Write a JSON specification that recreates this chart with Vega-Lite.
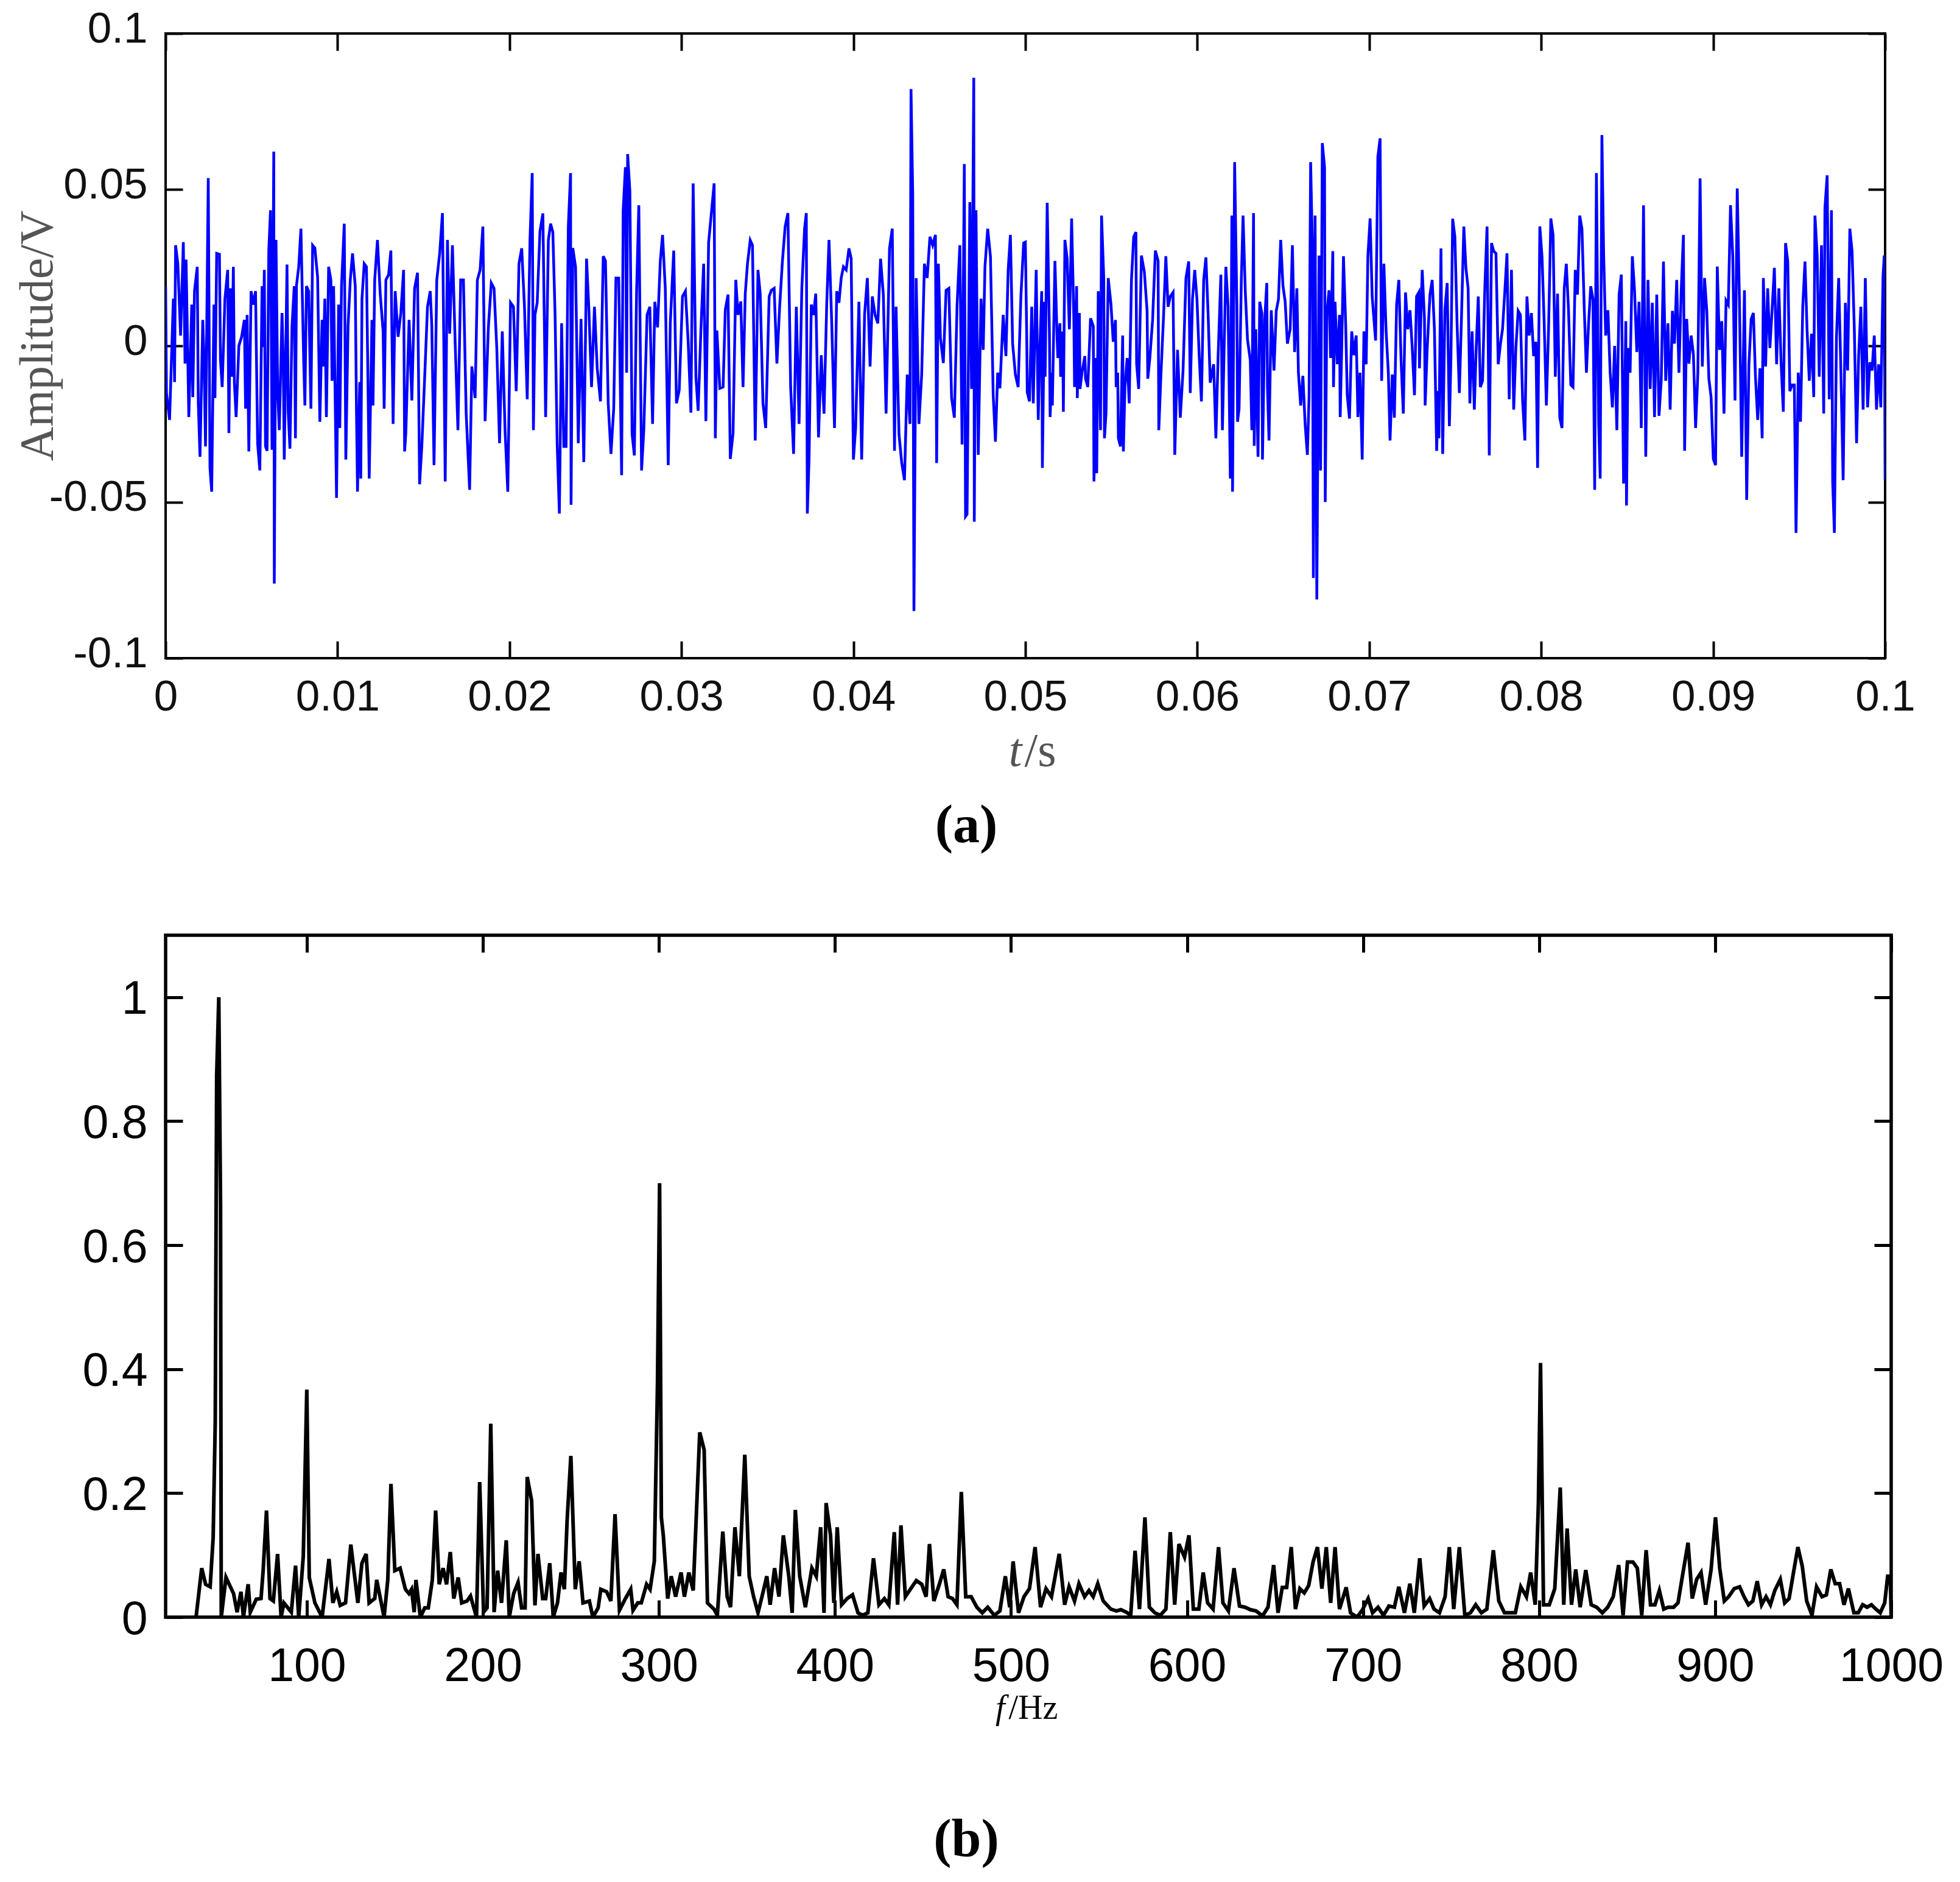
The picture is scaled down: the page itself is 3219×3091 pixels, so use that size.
{
  "$schema": "https://vega.github.io/schema/vega-lite/v6.json",
  "description": "Vibration signal in time (a) and its normalised spectrum (b)",
  "background": "white",
  "padding": {"left": 21, "top": 10, "right": 20, "bottom": 20},
  "spacing": 127,
  "config": {
    "view": {"stroke": null},
    "axis": {"grid": false, "domain": false, "tickColor": "black", "labelFlush": false, "labelOverlap": false}
  },
  "datasets": {
    "sig": [
      {"t":0,"v":0.0191},{"t":0.00005,"v":-0.0151},{"t":0.00023,"v":-0.0237},{"t":0.00045,"v":0.0151},{"t":0.00052,"v":-0.0116},{"t":0.00058,"v":0.0322},{"t":0.00071,"v":0.0263},{"t":0.00087,"v":0.0033},{"t":0.00103,"v":0.0332},{"t":0.00113,"v":-0.0057},
      {"t":0.00119,"v":0.0276},{"t":0.00135,"v":-0.0228},{"t":0.00152,"v":0.0132},{"t":0.00158,"v":-0.0164},{"t":0.00168,"v":0.0175},{"t":0.00184,"v":0.0253},{"t":0.0019,"v":-0.0184},{"t":0.002,"v":-0.0355},{"t":0.00216,"v":0.0083},{"t":0.00223,"v":-0.003},
      {"t":0.00232,"v":-0.0322},{"t":0.00248,"v":0.0537},{"t":0.00258,"v":-0.0391},{"t":0.00268,"v":-0.0467},{"t":0.00281,"v":0.0132},{"t":0.00287,"v":-0.0167},{"t":0.00297,"v":0.0296},{"t":0.00313,"v":0.0293},{"t":0.00319,"v":-0.0046},{"t":0.00329,"v":-0.0132},
      {"t":0.00345,"v":0.0151},{"t":0.00361,"v":0.0243},{"t":0.00368,"v":-0.0279},{"t":0.00377,"v":0.0184},{"t":0.00384,"v":-0.0099},{"t":0.00394,"v":0.0253},{"t":0.004,"v":-0.0118},{"t":0.0041,"v":-0.0228},{"t":0.00426,"v":0},{"t":0.00442,"v":0.0029},
      {"t":0.00458,"v":0.0083},{"t":0.00465,"v":-0.0201},{"t":0.00474,"v":0.0099},{"t":0.00484,"v":-0.0338},{"t":0.00497,"v":0.0175},{"t":0.0051,"v":0.0132},{"t":0.00523,"v":0.0175},{"t":0.00535,"v":-0.0312},{"t":0.00548,"v":-0.0399},{"t":0.00561,"v":0.0191},
      {"t":0.00568,"v":-0.0004},{"t":0.00574,"v":0.0243},{"t":0.00581,"v":-0.0322},{"t":0.0059,"v":-0.0336},{"t":0.006,"v":0.0305},{"t":0.0061,"v":0.0434},{"t":0.00619,"v":-0.0333},{"t":0.00629,"v":0.0622},{"t":0.00632,"v":-0.0761},{"t":0.00642,"v":0.0339},
      {"t":0.00652,"v":-0.0151},{"t":0.00661,"v":-0.027},{"t":0.00677,"v":0.0105},{"t":0.00684,"v":-0.0046},{"t":0.0069,"v":-0.0364},{"t":0.00706,"v":0.026},{"t":0.00713,"v":-0.0211},{"t":0.00723,"v":-0.0329},{"t":0.00735,"v":0.0063},{"t":0.00748,"v":0.0191},
      {"t":0.00755,"v":-0.0296},{"t":0.00761,"v":0.0193},{"t":0.00774,"v":0.0253},{"t":0.00787,"v":0.0375},{"t":0.00803,"v":-0.0049},{"t":0.0081,"v":-0.0191},{"t":0.00819,"v":0.0191},{"t":0.00832,"v":0.0175},{"t":0.00845,"v":-0.0201},{"t":0.00855,"v":0.0322},
      {"t":0.00868,"v":0.0313},{"t":0.00884,"v":0.022},{"t":0.00897,"v":-0.0243},{"t":0.0091,"v":0.0083},{"t":0.00916,"v":-0.0066},{"t":0.00926,"v":0.0151},{"t":0.00935,"v":-0.0228},{"t":0.00948,"v":0.0253},{"t":0.00961,"v":0.0211},{"t":0.00968,"v":-0.0112},
      {"t":0.00977,"v":0.0191},{"t":0.00994,"v":-0.0487},{"t":0.01006,"v":0.0132},{"t":0.01013,"v":-0.0263},{"t":0.01023,"v":0.0191},{"t":0.01039,"v":0.0391},{"t":0.01048,"v":-0.0364},{"t":0.01061,"v":0.0063},{"t":0.01074,"v":0.0211},{"t":0.01087,"v":0.0296},
      {"t":0.01103,"v":0.0191},{"t":0.0111,"v":-0.0211},{"t":0.01116,"v":-0.0467},{"t":0.01129,"v":-0.0116},{"t":0.01135,"v":-0.0425},{"t":0.01142,"v":0.0151},{"t":0.01155,"v":0.0263},{"t":0.01168,"v":0.0253},{"t":0.01184,"v":-0.0425},{"t":0.012,"v":0.0083},
      {"t":0.01206,"v":-0.0191},{"t":0.01216,"v":0.0211},{"t":0.01232,"v":0.0339},{"t":0.01248,"v":0.0167},{"t":0.01265,"v":0.0046},{"t":0.01271,"v":-0.0201},{"t":0.01281,"v":0.0211},{"t":0.01297,"v":0.0228},{"t":0.0131,"v":0.0305},{"t":0.01323,"v":-0.025},
      {"t":0.01335,"v":0.0175},{"t":0.01352,"v":0.0029},{"t":0.01368,"v":0.0105},{"t":0.01384,"v":0.0243},{"t":0.0139,"v":-0.0338},{"t":0.01397,"v":-0.0279},{"t":0.01416,"v":0.0083},{"t":0.01432,"v":-0.0175},{"t":0.01448,"v":0.0184},{"t":0.01465,"v":0.0234},
      {"t":0.01477,"v":-0.0443},{"t":0.0149,"v":-0.0322},{"t":0.01506,"v":-0.0109},{"t":0.01523,"v":0.0125},{"t":0.01539,"v":0.0175},{"t":0.01548,"v":0.0066},{"t":0.01561,"v":-0.0382},{"t":0.01577,"v":0.0211},{"t":0.01594,"v":0.0296},{"t":0.0161,"v":0.0425},
      {"t":0.01626,"v":-0.0434},{"t":0.01639,"v":0.0339},{"t":0.01652,"v":0.0039},{"t":0.01668,"v":0.0322},{"t":0.01684,"v":0.0009},{"t":0.017,"v":-0.027},{"t":0.01716,"v":0.0211},{"t":0.01732,"v":0.0211},{"t":0.01748,"v":-0.0217},{"t":0.01768,"v":-0.0461},
      {"t":0.01781,"v":-0.0066},{"t":0.018,"v":-0.0167},{"t":0.01813,"v":0.0211},{"t":0.01829,"v":0.0243},{"t":0.01845,"v":0.0382},{"t":0.01858,"v":-0.0241},{"t":0.01877,"v":0.0059},{"t":0.01894,"v":0.0201},{"t":0.0191,"v":0.0184},{"t":0.01926,"v":-0.0007},
      {"t":0.01942,"v":-0.0312},{"t":0.01958,"v":0.0046},{"t":0.01974,"v":-0.027},{"t":0.0199,"v":-0.0467},{"t":0.02006,"v":0.0138},{"t":0.02023,"v":0.0125},{"t":0.02039,"v":-0.0145},{"t":0.02055,"v":0.0263},{"t":0.02071,"v":0.0312},{"t":0.02087,"v":0.0125},
      {"t":0.02103,"v":-0.0171},{"t":0.02119,"v":0.0339},{"t":0.02132,"v":0.0553},{"t":0.02139,"v":-0.027},{"t":0.02148,"v":0.0099},{"t":0.02161,"v":0.0138},{"t":0.02177,"v":0.0366},{"t":0.02194,"v":0.0424},{"t":0.0221,"v":-0.0228},{"t":0.02226,"v":0.0339},
      {"t":0.02239,"v":0.0391},{"t":0.02252,"v":0.0364},{"t":0.02265,"v":0.0099},{"t":0.02277,"v":-0.0312},{"t":0.0229,"v":-0.0537},{"t":0.02303,"v":0.0072},{"t":0.02316,"v":-0.0322},{"t":0.02329,"v":-0.0322},{"t":0.02342,"v":0.0383},{"t":0.02355,"v":0.0553},
      {"t":0.02358,"v":-0.0509},{"t":0.02368,"v":0.0313},{"t":0.02384,"v":0.0253},{"t":0.024,"v":-0.0312},{"t":0.02416,"v":0.0086},{"t":0.02432,"v":-0.0372},{"t":0.02448,"v":0.0279},{"t":0.02461,"v":0.0125},{"t":0.02477,"v":-0.0132},{"t":0.02494,"v":0.0125},
      {"t":0.0251,"v":-0.0072},{"t":0.02529,"v":-0.0178},{"t":0.02545,"v":0.0287},{"t":0.02558,"v":0.0272},{"t":0.02574,"v":-0.0184},{"t":0.0259,"v":-0.0346},{"t":0.02606,"v":-0.0201},{"t":0.02619,"v":0.0217},{"t":0.02635,"v":0.0217},{"t":0.02652,"v":-0.0414},
      {"t":0.02661,"v":0.0434},{"t":0.02674,"v":0.0572},{"t":0.02681,"v":-0.0086},{"t":0.02687,"v":0.0614},{"t":0.027,"v":0.0496},{"t":0.02713,"v":-0.0283},{"t":0.02726,"v":-0.0351},{"t":0.02739,"v":0.0175},{"t":0.02752,"v":0.045},{"t":0.02768,"v":-0.0399},
      {"t":0.02781,"v":-0.027},{"t":0.028,"v":0.0099},{"t":0.02816,"v":0.0125},{"t":0.02832,"v":-0.025},{"t":0.02845,"v":0.0141},{"t":0.02861,"v":0.0059},{"t":0.02877,"v":0.0272},{"t":0.0289,"v":0.0355},{"t":0.02906,"v":0.0184},{"t":0.02923,"v":-0.0382},
      {"t":0.02935,"v":0.0072},{"t":0.02955,"v":0.0305},{"t":0.02971,"v":-0.0184},{"t":0.02987,"v":-0.0142},{"t":0.03006,"v":0.0158},{"t":0.03023,"v":0.0175},{"t":0.03039,"v":0.0013},{"t":0.03055,"v":-0.0214},{"t":0.03068,"v":0.052},{"t":0.03084,"v":-0.0099},
      {"t":0.03097,"v":-0.0208},{"t":0.03113,"v":0.0049},{"t":0.03129,"v":0.0263},{"t":0.03142,"v":-0.0241},{"t":0.03158,"v":0.0332},{"t":0.03174,"v":0.0425},{"t":0.0319,"v":0.052},{"t":0.03197,"v":-0.0296},{"t":0.03206,"v":0.0049},{"t":0.03223,"v":-0.0136},
      {"t":0.03242,"v":-0.0132},{"t":0.03255,"v":0.0116},{"t":0.03271,"v":0.0164},{"t":0.03284,"v":-0.0362},{"t":0.033,"v":-0.028},{"t":0.03316,"v":0.0211},{"t":0.03329,"v":0.0099},{"t":0.03345,"v":0.0142},{"t":0.03358,"v":-0.0132},{"t":0.03371,"v":0.0167},
      {"t":0.03384,"v":0.0263},{"t":0.034,"v":0.0338},{"t":0.03413,"v":0.0322},{"t":0.03429,"v":-0.0303},{"t":0.03445,"v":0.0243},{"t":0.03458,"v":0.0167},{"t":0.03474,"v":-0.0184},{"t":0.0349,"v":-0.0263},{"t":0.0351,"v":0.0158},{"t":0.03523,"v":0.0178},
      {"t":0.03539,"v":0.0184},{"t":0.03555,"v":-0.0057},{"t":0.03571,"v":0.0125},{"t":0.03587,"v":0.027},{"t":0.03603,"v":0.0382},{"t":0.03619,"v":0.0425},{"t":0.03635,"v":-0.0132},{"t":0.03652,"v":-0.0346},{"t":0.03668,"v":0.0125},{"t":0.03684,"v":-0.025},
      {"t":0.037,"v":0.0184},{"t":0.03716,"v":0.0375},{"t":0.03726,"v":0.0425},{"t":0.03732,"v":-0.0537},{"t":0.03742,"v":-0.0364},{"t":0.03755,"v":0.0132},{"t":0.03768,"v":0.0099},{"t":0.03781,"v":0.0167},{"t":0.03797,"v":-0.0293},{"t":0.03813,"v":-0.003},
      {"t":0.03829,"v":-0.0217},{"t":0.03845,"v":0.0138},{"t":0.03858,"v":0.0339},{"t":0.03874,"v":0.0072},{"t":0.0389,"v":-0.0263},{"t":0.03903,"v":0.0175},{"t":0.03916,"v":0.0138},{"t":0.03929,"v":0.0217},{"t":0.03942,"v":0.0253},{"t":0.03958,"v":0.0243},
      {"t":0.03974,"v":0.0312},{"t":0.03987,"v":0.028},{"t":0.04,"v":-0.0364},{"t":0.04013,"v":-0.0263},{"t":0.04032,"v":0.0141},{"t":0.04048,"v":-0.0364},{"t":0.04065,"v":0.0101},{"t":0.04081,"v":0.0217},{"t":0.04097,"v":-0.0066},{"t":0.0411,"v":0.0158},
      {"t":0.04126,"v":0.0099},{"t":0.04142,"v":0.0072},{"t":0.04158,"v":0.0279},{"t":0.04174,"v":0.0164},{"t":0.0419,"v":-0.0217},{"t":0.0421,"v":0.0312},{"t":0.04226,"v":0.0375},{"t":0.04239,"v":-0.0336},{"t":0.04248,"v":0.0125},{"t":0.04265,"v":-0.0283},
      {"t":0.04281,"v":-0.0375},{"t":0.04297,"v":-0.043},{"t":0.04313,"v":-0.0092},{"t":0.04329,"v":-0.025},{"t":0.04335,"v":0.0822},{"t":0.04345,"v":0.0487},{"t":0.04352,"v":-0.0849},{"t":0.04365,"v":0.0217},{"t":0.04381,"v":-0.025},{"t":0.04397,"v":-0.0092},
      {"t":0.04413,"v":0.0263},{"t":0.04429,"v":0.0217},{"t":0.04445,"v":0.0349},{"t":0.04461,"v":0.0322},{"t":0.04477,"v":0.0355},{"t":0.04484,"v":-0.0375},{"t":0.04494,"v":0.0263},{"t":0.04506,"v":0.0026},{"t":0.04523,"v":-0.0055},{"t":0.04539,"v":0.0178},
      {"t":0.04555,"v":0.0184},{"t":0.04571,"v":-0.0167},{"t":0.04587,"v":-0.023},{"t":0.04603,"v":0.0132},{"t":0.04619,"v":0.0322},{"t":0.04632,"v":-0.0316},{"t":0.04645,"v":0.0582},{"t":0.04652,"v":-0.0546},{"t":0.04661,"v":-0.0539},{"t":0.04677,"v":0.046},
      {"t":0.04687,"v":-0.0138},{"t":0.047,"v":0.0858},{"t":0.04703,"v":-0.0563},{"t":0.04713,"v":0.0434},{"t":0.04726,"v":-0.0349},{"t":0.04742,"v":0.0151},{"t":0.04755,"v":-0.0013},{"t":0.04765,"v":0.0253},{"t":0.04781,"v":0.0375},{"t":0.04797,"v":0.0286},
      {"t":0.04813,"v":-0.0158},{"t":0.04826,"v":-0.0307},{"t":0.04839,"v":-0.0086},{"t":0.04852,"v":-0.0136},{"t":0.04871,"v":0.0099},{"t":0.04887,"v":-0.0033},{"t":0.049,"v":0.0243},{"t":0.04913,"v":0.0355},{"t":0.04926,"v":0.0007},{"t":0.04942,"v":-0.0092},
      {"t":0.04958,"v":-0.0132},{"t":0.04974,"v":0.0158},{"t":0.0499,"v":0.0329},
      {"t":0.05,"v":0.0332},{"t":0.05008,"v":0.0029},{"t":0.05011,"v":-0.0149},{"t":0.05024,"v":-0.0178},{"t":0.05037,"v":0.0125},{"t":0.05046,"v":-0.0184},{"t":0.05063,"v":0.0243},{"t":0.05075,"v":-0.0237},{"t":0.05085,"v":0.0003},{"t":0.05095,"v":0.0175},
      {"t":0.05099,"v":-0.0391},{"t":0.05111,"v":0.0141},{"t":0.05115,"v":-0.0099},{"t":0.05127,"v":0.0458},{"t":0.0514,"v":0.0036},{"t":0.05144,"v":-0.0228},{"t":0.05153,"v":-0.0086},{"t":0.05157,"v":-0.0191},{"t":0.05172,"v":0.0272},{"t":0.05185,"v":0.002},
      {"t":0.05189,"v":-0.0039},{"t":0.05201,"v":0.0072},{"t":0.05205,"v":-0.0099},{"t":0.05217,"v":0.0046},{"t":0.05221,"v":-0.0211},{"t":0.0523,"v":0.0339},{"t":0.05243,"v":0.0279},{"t":0.05256,"v":0.0053},{"t":0.05269,"v":0.0408},{"t":0.05282,"v":0.0086},
      {"t":0.05286,"v":-0.0132},{"t":0.05298,"v":0.0191},{"t":0.05302,"v":-0.0167},{"t":0.05314,"v":0.0105},{"t":0.05318,"v":-0.0138},{"t":0.0533,"v":-0.0083},{"t":0.05346,"v":-0.0033},{"t":0.0535,"v":-0.0105},{"t":0.05363,"v":-0.0132},{"t":0.05379,"v":0.0088},
      {"t":0.05395,"v":0.0063},{"t":0.05399,"v":-0.0434},{"t":0.05411,"v":-0.0039},{"t":0.05415,"v":-0.0408},{"t":0.05424,"v":0.0175},{"t":0.05437,"v":-0.027},{"t":0.05443,"v":0.0417},{"t":0.05456,"v":0.0217},{"t":0.0546,"v":-0.0296},{"t":0.05469,"v":-0.0217},
      {"t":0.05482,"v":0.0217},{"t":0.05498,"v":0.0132},{"t":0.05511,"v":0.0013},{"t":0.05524,"v":0.0083},{"t":0.05528,"v":-0.0132},{"t":0.05537,"v":-0.0086},{"t":0.05541,"v":-0.0296},{"t":0.05553,"v":-0.0322},{"t":0.05566,"v":0.0033},{"t":0.0557,"v":-0.0338},
      {"t":0.05579,"v":-0.0132},{"t":0.05592,"v":-0.0039},{"t":0.05604,"v":-0.0184},{"t":0.05617,"v":0.0211},{"t":0.0563,"v":0.0349},{"t":0.05643,"v":0.0364},{"t":0.05647,"v":-0.0057},{"t":0.05659,"v":-0.0138},{"t":0.05675,"v":0.0289},{"t":0.05692,"v":0.0237},
      {"t":0.05708,"v":0.0112},{"t":0.05712,"v":-0.0105},{"t":0.05724,"v":-0.0039},{"t":0.0574,"v":0.0083},{"t":0.05756,"v":0.0305},{"t":0.05772,"v":0.0272},{"t":0.05776,"v":-0.027},{"t":0.05788,"v":-0.0099},{"t":0.05804,"v":0.0099},{"t":0.05817,"v":0.0287},
      {"t":0.0583,"v":0.0125},{"t":0.05843,"v":0.0158},{"t":0.05859,"v":0.0171},{"t":0.05869,"v":-0.0349},{"t":0.05885,"v":-0.0013},{"t":0.05901,"v":-0.023},{"t":0.05917,"v":-0.0079},{"t":0.05934,"v":0.0217},{"t":0.0595,"v":0.027},{"t":0.05959,"v":-0.0151},
      {"t":0.05972,"v":0.0151},{"t":0.05985,"v":0.0243},{"t":0.05998,"v":0.0149},{"t":0.06011,"v":-0.0033},{"t":0.06024,"v":-0.0178},{"t":0.06037,"v":0.0211},{"t":0.0605,"v":0.0283},{"t":0.06063,"v":0.0099},{"t":0.06075,"v":-0.0118},{"t":0.06095,"v":-0.0059},
      {"t":0.06108,"v":-0.0296},{"t":0.06121,"v":-0.0033},{"t":0.06137,"v":0.0228},{"t":0.06146,"v":-0.027},{"t":0.06166,"v":0.0253},{"t":0.06179,"v":0.0125},{"t":0.06192,"v":-0.0425},{"t":0.06201,"v":0.0417},{"t":0.06205,"v":-0.0467},{"t":0.06217,"v":0.0588},
      {"t":0.0623,"v":0.0132},{"t":0.06234,"v":-0.0243},{"t":0.06243,"v":-0.0201},{"t":0.06256,"v":0.0211},{"t":0.06266,"v":0.0417},{"t":0.06279,"v":0.0175},{"t":0.06292,"v":0.002},{"t":0.06308,"v":-0.0046},{"t":0.06317,"v":-0.027},{"t":0.06327,"v":0.0425},
      {"t":0.06331,"v":-0.032},{"t":0.0634,"v":0.0053},{"t":0.06353,"v":-0.0355},{"t":0.06363,"v":0.0141},{"t":0.06375,"v":0.0105},{"t":0.06379,"v":-0.0364},{"t":0.06392,"v":0.0083},{"t":0.06404,"v":0.0201},{"t":0.06408,"v":-0.0132},{"t":0.06417,"v":-0.0303},
      {"t":0.0643,"v":0.0114},{"t":0.06446,"v":-0.0079},{"t":0.06459,"v":0.0112},{"t":0.06472,"v":0.0149},{"t":0.06485,"v":0.0339},{"t":0.06498,"v":0.0193},{"t":0.06511,"v":0.0141},{"t":0.06524,"v":0.0007},{"t":0.0654,"v":0.0053},{"t":0.06553,"v":0.0322},
      {"t":0.06566,"v":-0.002},{"t":0.06579,"v":0.0184},{"t":0.06588,"v":-0.0086},{"t":0.06601,"v":-0.0191},{"t":0.06614,"v":-0.0096},{"t":0.06627,"v":-0.025},{"t":0.0664,"v":-0.0349},{"t":0.0665,"v":-0.0162},{"t":0.06659,"v":0.0588},{"t":0.06669,"v":0.0322},
      {"t":0.06675,"v":-0.0743},{"t":0.06685,"v":0.0417},{"t":0.06695,"v":-0.0812},{"t":0.06708,"v":0.0289},{"t":0.06717,"v":-0.0399},{"t":0.06727,"v":0.0649},{"t":0.0674,"v":0.0572},{"t":0.06744,"v":-0.05},{"t":0.06753,"v":0.0099},{"t":0.06766,"v":0.0178},
      {"t":0.06775,"v":-0.0039},{"t":0.06788,"v":0.0303},{"t":0.06792,"v":-0.0132},{"t":0.06801,"v":0.0141},{"t":0.06814,"v":-0.0059},{"t":0.06827,"v":0.0099},{"t":0.06831,"v":-0.0228},{"t":0.0684,"v":0},{"t":0.0685,"v":0.0287},{"t":0.06863,"v":0.0066},
      {"t":0.06872,"v":-0.0158},{"t":0.06885,"v":-0.0233},{"t":0.06898,"v":0.0046},{"t":0.06911,"v":-0.003},{"t":0.06924,"v":0.0033},{"t":0.06934,"v":-0.0228},{"t":0.06946,"v":-0.0086},{"t":0.06959,"v":-0.0364},{"t":0.06969,"v":0.0046},{"t":0.06982,"v":-0.0059},
      {"t":0.06992,"v":0.0287},{"t":0.07005,"v":0.0408},{"t":0.07017,"v":0.0158},{"t":0.07027,"v":0.0086},{"t":0.07037,"v":0.0017},{"t":0.0705,"v":0.0605},{"t":0.07063,"v":0.0664},{"t":0.07072,"v":-0.0112},{"t":0.07085,"v":0.0263},{"t":0.07098,"v":0.0046},
      {"t":0.07111,"v":-0.0086},{"t":0.07121,"v":-0.0303},{"t":0.07134,"v":-0.0092},{"t":0.07146,"v":-0.023},{"t":0.07159,"v":0.0132},{"t":0.07172,"v":0.0211},{"t":0.07185,"v":-0.0046},{"t":0.07198,"v":-0.0217},{"t":0.07211,"v":0.0171},{"t":0.07224,"v":0.0053},
      {"t":0.07237,"v":0.0114},{"t":0.0725,"v":-0.0007},{"t":0.07263,"v":-0.0158},{"t":0.07275,"v":0.0158},{"t":0.07288,"v":0.0171},{"t":0.07292,"v":-0.0072},{"t":0.07308,"v":0.0243},{"t":0.07321,"v":0.0088},{"t":0.07325,"v":-0.0191},{"t":0.07337,"v":-0.0007},
      {"t":0.07353,"v":0.0164},{"t":0.07366,"v":0.0211},{"t":0.07379,"v":0.0053},{"t":0.07392,"v":-0.0336},{"t":0.07401,"v":-0.0145},{"t":0.07405,"v":-0.0296},{"t":0.07417,"v":0.0312},{"t":0.07427,"v":-0.0346},{"t":0.0744,"v":0.0114},{"t":0.07453,"v":0.0201},
      {"t":0.07466,"v":-0.0257},{"t":0.07475,"v":-0.0039},{"t":0.07485,"v":0.0407},{"t":0.07498,"v":0.0349},{"t":0.07511,"v":0.0066},{"t":0.07524,"v":-0.0151},{"t":0.07537,"v":0.0104},{"t":0.0755,"v":0.0382},{"t":0.07562,"v":0.025},{"t":0.07575,"v":0.0184},
      {"t":0.07585,"v":-0.0184},{"t":0.07598,"v":0.0046},{"t":0.07611,"v":-0.0204},{"t":0.07621,"v":-0.002},{"t":0.07634,"v":0.0158},{"t":0.07646,"v":-0.0132},{"t":0.07659,"v":-0.0112},{"t":0.07672,"v":0.0184},{"t":0.07685,"v":0.0382},{"t":0.07698,"v":-0.0351},
      {"t":0.07711,"v":0.0329},{"t":0.07724,"v":0.0303},{"t":0.07737,"v":0.0296},{"t":0.0775,"v":-0.0059},{"t":0.07763,"v":0.0007},{"t":0.07775,"v":0.0053},{"t":0.07788,"v":0.0171},{"t":0.07801,"v":0.0296},{"t":0.07814,"v":-0.0171},{"t":0.07827,"v":0.0243},
      {"t":0.0784,"v":-0.0204},{"t":0.07853,"v":-0.0004},{"t":0.07866,"v":0.0112},{"t":0.07879,"v":0.0099},{"t":0.07892,"v":-0.0178},{"t":0.07905,"v":-0.0303},{"t":0.07917,"v":0.0158},{"t":0.0793,"v":0.0033},{"t":0.07943,"v":0.0105},{"t":0.07956,"v":-0.0033},
      {"t":0.07969,"v":0.0013},{"t":0.07979,"v":-0.0391},{"t":0.07992,"v":0.0382},{"t":0.08005,"v":0.0283},{"t":0.08017,"v":0.0079},{"t":0.0803,"v":-0.0191},{"t":0.08043,"v":0.0059},{"t":0.08056,"v":0.0408},{"t":0.08069,"v":0.0355},{"t":0.08082,"v":-0.0099},
      {"t":0.08095,"v":0.0167},{"t":0.08108,"v":-0.023},{"t":0.08121,"v":-0.0263},{"t":0.08134,"v":0.0184},{"t":0.08146,"v":0.0263},{"t":0.08159,"v":0.0112},{"t":0.08172,"v":-0.0125},{"t":0.08185,"v":-0.0132},{"t":0.08198,"v":0.0243},{"t":0.08211,"v":0.0164},
      {"t":0.08224,"v":0.0417},{"t":0.08237,"v":0.0375},{"t":0.0825,"v":0.0125},{"t":0.08263,"v":-0.0086},{"t":0.08275,"v":0.0066},{"t":0.08288,"v":0.0191},{"t":0.08301,"v":0.0149},{"t":0.08311,"v":-0.0461},{"t":0.08321,"v":0.0553},{"t":0.08334,"v":-0.0243},
      {"t":0.08343,"v":-0.0425},{"t":0.08353,"v":0.0675},{"t":0.08363,"v":0.0296},{"t":0.08375,"v":0.0033},{"t":0.08388,"v":0.0114},{"t":0.08401,"v":-0.0086},{"t":0.08414,"v":-0.0197},{"t":0.08427,"v":0},{"t":0.0844,"v":-0.027},{"t":0.08453,"v":0.0164},
      {"t":0.08466,"v":0.0228},{"t":0.08479,"v":-0.0441},{"t":0.08492,"v":0.0079},{"t":0.08496,"v":-0.0511},{"t":0.08505,"v":-0.0007},{"t":0.08517,"v":-0.0086},{"t":0.0853,"v":0.0287},{"t":0.08543,"v":0.0175},{"t":0.08556,"v":-0.002},{"t":0.08569,"v":0.0141},
      {"t":0.08582,"v":-0.0263},{"t":0.08595,"v":0.045},{"t":0.08608,"v":-0.0355},{"t":0.08621,"v":0.0211},{"t":0.08634,"v":-0.0138},{"t":0.08646,"v":0.0138},{"t":0.08659,"v":-0.0228},{"t":0.08672,"v":0.0164},{"t":0.08685,"v":-0.0224},{"t":0.08698,"v":-0.0112},
      {"t":0.08711,"v":0.027},{"t":0.08724,"v":-0.0112},{"t":0.08737,"v":0.0072},{"t":0.0875,"v":-0.0204},{"t":0.08763,"v":0.0112},{"t":0.08775,"v":0.0007},{"t":0.08788,"v":0.0211},{"t":0.08801,"v":-0.0086},{"t":0.08814,"v":0.0175},{"t":0.08827,"v":0.0355},
      {"t":0.08834,"v":-0.0336},{"t":0.08846,"v":0.0086},{"t":0.08859,"v":-0.0057},{"t":0.08872,"v":0.0033},{"t":0.08885,"v":-0.0026},{"t":0.08898,"v":-0.0263},{"t":0.08911,"v":-0.0086},{"t":0.08924,"v":0.0536},{"t":0.08937,"v":-0.0066},{"t":0.0895,"v":0.0217},
      {"t":0.08963,"v":0.0112},{"t":0.08975,"v":-0.0105},{"t":0.08988,"v":-0.0164},{"t":0.09001,"v":-0.0362},{"t":0.09014,"v":-0.0382},{"t":0.09024,"v":0.0254},{"t":0.09037,"v":-0.0013},{"t":0.0905,"v":0.0079},{"t":0.09063,"v":-0.0217},{"t":0.09075,"v":0.0145},
      {"t":0.09088,"v":0.0132},{"t":0.09101,"v":0.045},{"t":0.09114,"v":0.0289},{"t":0.09127,"v":-0.0175},{"t":0.0914,"v":0.0504},{"t":0.09153,"v":0.0141},{"t":0.09166,"v":-0.0355},{"t":0.09182,"v":0.0178},{"t":0.09195,"v":-0.0493},{"t":0.09208,"v":-0.0059},
      {"t":0.09221,"v":0.0086},{"t":0.09234,"v":0.0105},{"t":0.09246,"v":-0.0099},{"t":0.09259,"v":-0.0237},{"t":0.09272,"v":-0.0072},{"t":0.09285,"v":-0.0296},{"t":0.09292,"v":0.0217},{"t":0.09305,"v":-0.0066},{"t":0.09317,"v":0.0184},{"t":0.0933,"v":-0.0007},
      {"t":0.09343,"v":0.0118},{"t":0.09356,"v":0.025},{"t":0.09369,"v":-0.0059},{"t":0.09382,"v":0.0184},{"t":0.09395,"v":-0.0053},{"t":0.09408,"v":-0.0211},{"t":0.09421,"v":0.0329},{"t":0.09434,"v":0.027},{"t":0.09446,"v":-0.0145},{"t":0.09459,"v":-0.0125},
      {"t":0.09472,"v":-0.0125},{"t":0.09482,"v":-0.0599},{"t":0.09495,"v":-0.0086},{"t":0.09508,"v":-0.0243},{"t":0.09521,"v":0.0125},{"t":0.09534,"v":0.027},{"t":0.09546,"v":0.0053},{"t":0.09559,"v":-0.0112},{"t":0.09572,"v":0.0039},{"t":0.09585,"v":-0.0164},
      {"t":0.09592,"v":0.0417},{"t":0.09605,"v":0.0289},{"t":0.09617,"v":-0.0099},{"t":0.0963,"v":0.0322},{"t":0.09643,"v":-0.0217},{"t":0.0965,"v":0.0441},{"t":0.09663,"v":0.0546},{"t":0.09675,"v":-0.0171},{"t":0.09688,"v":0.0434},{"t":0.09695,"v":-0.0434},
      {"t":0.09705,"v":-0.0599},{"t":0.09717,"v":0.0026},{"t":0.0973,"v":0.0217},{"t":0.09743,"v":-0.0086},{"t":0.09756,"v":-0.043},{"t":0.09769,"v":0.0138},{"t":0.09782,"v":-0.0079},{"t":0.09795,"v":0.0375},{"t":0.09808,"v":0.0303},{"t":0.09821,"v":0.0053},
      {"t":0.09834,"v":-0.0312},{"t":0.09846,"v":-0.0033},{"t":0.09859,"v":0.0125},{"t":0.09872,"v":-0.0204},{"t":0.09885,"v":0.0217},{"t":0.09898,"v":-0.0197},{"t":0.09911,"v":-0.0053},{"t":0.09924,"v":-0.0079},{"t":0.09937,"v":0.0033},{"t":0.0995,"v":-0.0204},
      {"t":0.09962,"v":-0.0059},{"t":0.09975,"v":-0.0197},{"t":0.09988,"v":0.0224},{"t":0.09995,"v":0.0289},{"t":0.1,"v":-0.0428}
    ],
    "spec": [
      {"f":37.1,"a":0},{"f":40.3,"a":0.079},{"f":42.5,"a":0.053},{"f":45.1,"a":0.049},{"f":46.8,"a":0.128},{"f":48,"a":0.316},{"f":48.8,"a":0.873},{"f":50,"a":1},{"f":51,"a":0.663},{"f":51.4,"a":0},
      {"f":54.1,"a":0.064},{"f":58.4,"a":0.038},{"f":60.4,"a":0.008},{"f":62.6,"a":0.041},{"f":64,"a":0},{"f":66.7,"a":0.053},{"f":67.9,"a":0.008},{"f":71.3,"a":0.029},{"f":74,"a":0.03},{"f":75.2,"a":0.075},
      {"f":77.1,"a":0.172},{"f":79.1,"a":0.03},{"f":81,"a":0.026},{"f":83.4,"a":0.102},{"f":85.4,"a":0},{"f":87,"a":0.023},{"f":91.2,"a":0.008},{"f":93.6,"a":0.083},{"f":95.4,"a":0},{"f":98,"a":0.098},
      {"f":100,"a":0.367},{"f":101.4,"a":0.064},{"f":104.6,"a":0.023},{"f":108.7,"a":0},{"f":112.6,"a":0.094},{"f":114.8,"a":0.023},{"f":117,"a":0.041},{"f":119,"a":0.019},{"f":122,"a":0.023},{"f":125,"a":0.117},
      {"f":129,"a":0.023},{"f":131.3,"a":0.087},{"f":133.7,"a":0.102},{"f":135.4,"a":0.023},{"f":138.6,"a":0.03},{"f":139.7,"a":0.06},{"f":143.9,"a":0},{"f":146,"a":0.06},{"f":147.8,"a":0.215},{"f":150,"a":0.075},
      {"f":153,"a":0.079},{"f":156,"a":0.045},{"f":158,"a":0.038},{"f":159.5,"a":0.045},{"f":161,"a":0.008},{"f":162,"a":0.06},{"f":164.5,"a":0},{"f":167,"a":0.015},{"f":169,"a":0.015},{"f":171.3,"a":0.06},
      {"f":173.2,"a":0.172},{"f":175.2,"a":0.053},{"f":177.4,"a":0.079},{"f":179.4,"a":0.053},{"f":181.5,"a":0.105},{"f":183.5,"a":0.03},{"f":186,"a":0.064},{"f":188,"a":0.023},{"f":191,"a":0.026},{"f":193,"a":0.034},
      {"f":196.4,"a":0},{"f":198.2,"a":0.218},{"f":200.4,"a":0.008},{"f":202.4,"a":0.015},{"f":204.5,"a":0.312},{"f":206.4,"a":0.008},{"f":208.4,"a":0.075},{"f":210.6,"a":0.023},{"f":213.3,"a":0.124},{"f":215,"a":0},
      {"f":217.5,"a":0.038},{"f":220,"a":0.056},{"f":222,"a":0.015},{"f":224,"a":0.015},{"f":225.2,"a":0.226},{"f":227.7,"a":0.188},{"f":229.6,"a":0.019},{"f":231.3,"a":0.102},{"f":234,"a":0.03},{"f":235.7,"a":0.03},
      {"f":238,"a":0.087},{"f":240,"a":0},{"f":242.4,"a":0.023},{"f":244.4,"a":0.072},{"f":246.3,"a":0.045},{"f":247.9,"a":0.158},{"f":250,"a":0.26},{"f":252.5,"a":0.045},{"f":254.7,"a":0.09},{"f":256.9,"a":0.023},
      {"f":260.5,"a":0.026},{"f":262.5,"a":0},{"f":265.5,"a":0.015},{"f":267,"a":0.045},{"f":270.3,"a":0.041},{"f":272.7,"a":0.026},{"f":275.1,"a":0.166},{"f":277.6,"a":0.011},{"f":281,"a":0.03},{"f":284,"a":0.045},
      {"f":285.3,"a":0.011},{"f":288,"a":0.023},{"f":290,"a":0.023},{"f":293,"a":0.053},{"f":295,"a":0.045},{"f":297.4,"a":0.09},{"f":299.2,"a":0.377},{"f":300.4,"a":0.7},{"f":301.4,"a":0.161},{"f":302.5,"a":0.132},
      {"f":305,"a":0.03},{"f":307,"a":0.066},{"f":309.5,"a":0.033},{"f":312.6,"a":0.072},{"f":314.5,"a":0.033},{"f":317,"a":0.072},{"f":319.5,"a":0.043},{"f":323.2,"a":0.298},{"f":325.7,"a":0.27},{"f":327.6,"a":0.023},
      {"f":331.3,"a":0.013},{"f":333.2,"a":0.003},{"f":336.3,"a":0.138},{"f":338.8,"a":0.033},{"f":340.7,"a":0.016},{"f":343.2,"a":0.145},{"f":345.7,"a":0.066},{"f":348.8,"a":0.262},{"f":351.3,"a":0.066},{"f":353.8,"a":0.033},
      {"f":356.3,"a":0.007},{"f":358.8,"a":0.036},{"f":361.3,"a":0.066},{"f":363.2,"a":0.02},{"f":365.7,"a":0.079},{"f":368.2,"a":0.033},{"f":370.7,"a":0.132},{"f":373.8,"a":0.066},{"f":375.7,"a":0.007},{"f":377.5,"a":0.173},
      {"f":380,"a":0.066},{"f":383.2,"a":0.016},{"f":386.9,"a":0.079},{"f":389.4,"a":0.066},{"f":391.9,"a":0.145},{"f":393.8,"a":0.007},{"f":395,"a":0.184},{"f":397.5,"a":0.132},{"f":399.4,"a":0.023},{"f":401.3,"a":0.145},
      {"f":403.8,"a":0.02},{"f":406.9,"a":0.03},{"f":410,"a":0.036},{"f":413.1,"a":0.007},{"f":415.6,"a":0.003},{"f":418.7,"a":0.007},{"f":421.9,"a":0.095},{"f":425,"a":0.02},{"f":428.1,"a":0.03},{"f":430.6,"a":0.02},
      {"f":433.7,"a":0.137},{"f":435.6,"a":0.02},{"f":437.5,"a":0.148},{"f":440,"a":0.033},{"f":443.1,"a":0.046},{"f":446.2,"a":0.059},{"f":449.3,"a":0.053},{"f":451.8,"a":0.033},{"f":453.7,"a":0.118},{"f":456.2,"a":0.026},
      {"f":459.3,"a":0.053},{"f":461.8,"a":0.077},{"f":464.3,"a":0.033},{"f":466.8,"a":0.03},{"f":469.3,"a":0.02},{"f":471.8,"a":0.202},{"f":474.3,"a":0.033},{"f":477.4,"a":0.033},{"f":480.6,"a":0.016},{"f":483.7,"a":0.007},
      {"f":486.8,"a":0.016},{"f":490.5,"a":0.003},{"f":493.7,"a":0.01},{"f":496.8,"a":0.066},{"f":499.3,"a":0.016},{"f":501.2,"a":0.09},{"f":504.3,"a":0.007},{"f":507.4,"a":0.033},{"f":510.5,"a":0.046},{"f":513.7,"a":0.113},
      {"f":516.8,"a":0.016},{"f":519.9,"a":0.046},{"f":523,"a":0.033},{"f":527.4,"a":0.102},{"f":530.5,"a":0.02},{"f":533,"a":0.049},{"f":536.1,"a":0.026},{"f":538.6,"a":0.054},{"f":541.8,"a":0.033},{"f":544.3,"a":0.043},
      {"f":546.7,"a":0.033},{"f":549.3,"a":0.054},{"f":552.4,"a":0.026},{"f":556.7,"a":0.013},{"f":559.9,"a":0.01},{"f":562.4,"a":0.012},{"f":565.5,"a":0.008},{"f":568,"a":0.003},{"f":570.5,"a":0.107},{"f":573,"a":0.013},
      {"f":576.1,"a":0.161},{"f":578.6,"a":0.016},{"f":581.7,"a":0.007},{"f":584.8,"a":0.003},{"f":588,"a":0.013},{"f":590.5,"a":0.137},{"f":593,"a":0.02},{"f":595.4,"a":0.118},{"f":598.6,"a":0.097},{"f":601.1,"a":0.132},
      {"f":603.6,"a":0.013},{"f":606.7,"a":0.013},{"f":609.2,"a":0.072},{"f":611.7,"a":0.023},{"f":614.8,"a":0.013},{"f":617.9,"a":0.113},{"f":620.4,"a":0.023},{"f":623.5,"a":0.01},{"f":626.7,"a":0.079},{"f":629.8,"a":0.018},
      {"f":632.9,"a":0.016},{"f":636,"a":0.012},{"f":639.2,"a":0.01},{"f":642.9,"a":0.002},{"f":646,"a":0.016},{"f":649.2,"a":0.084},{"f":651.7,"a":0.007},{"f":654.1,"a":0.048},{"f":656.6,"a":0.048},{"f":659.2,"a":0.113},
      {"f":661.6,"a":0.013},{"f":664.1,"a":0.046},{"f":666.6,"a":0.039},{"f":669.1,"a":0.051},{"f":671.6,"a":0.089},{"f":674.1,"a":0.113},{"f":676.6,"a":0.046},{"f":679.1,"a":0.113},{"f":681.6,"a":0.023},{"f":684.1,"a":0.113},
      {"f":686.6,"a":0.013},{"f":690.4,"a":0.048},{"f":692.9,"a":0.007},{"f":696.6,"a":0},{"f":699.7,"a":0.012},{"f":702.9,"a":0.03},{"f":705.4,"a":0.007},{"f":708.5,"a":0.016},{"f":711.6,"a":0.003},{"f":714.7,"a":0.018},
      {"f":717.8,"a":0.016},{"f":720.3,"a":0.049},{"f":723.5,"a":0.007},{"f":726.6,"a":0.054},{"f":729.1,"a":0.007},{"f":732.2,"a":0.095},{"f":734.7,"a":0.018},{"f":737.8,"a":0.03},{"f":740.3,"a":0.013},{"f":743.4,"a":0.007},
      {"f":746.6,"a":0.033},{"f":749,"a":0.113},{"f":751.5,"a":0.013},{"f":754.7,"a":0.113},{"f":757.8,"a":0.003},{"f":761,"a":0.007},{"f":764,"a":0.02},{"f":767.2,"a":0.007},{"f":770.3,"a":0.013},{"f":774,"a":0.108},
      {"f":777.1,"a":0.026},{"f":780.3,"a":0.007},{"f":783.4,"a":0.007},{"f":786.5,"a":0.007},{"f":789.6,"a":0.049},{"f":792.8,"a":0.033},{"f":795.2,"a":0.072},{"f":797.8,"a":0.02},{"f":799.6,"a":0.184},{"f":800.8,"a":0.41},
      {"f":802.5,"a":0.02},{"f":805.8,"a":0.02},{"f":808.9,"a":0.046},{"f":812,"a":0.209},{"f":814,"a":0.02},{"f":815.9,"a":0.143},{"f":818.4,"a":0.02},{"f":820.8,"a":0.077},{"f":823.3,"a":0.016},{"f":826.5,"a":0.076},
      {"f":829.6,"a":0.02},{"f":832.7,"a":0.016},{"f":835.9,"a":0.007},{"f":839,"a":0.016},{"f":842.1,"a":0.033},{"f":845.2,"a":0.084},{"f":847.7,"a":0.003},{"f":850.2,"a":0.089},{"f":853.3,"a":0.089},{"f":855.8,"a":0.079},
      {"f":858.3,"a":0.003},{"f":860.8,"a":0.108},{"f":863.3,"a":0.02},{"f":865.8,"a":0.02},{"f":868.3,"a":0.043},{"f":870.8,"a":0.013},{"f":873.3,"a":0.016},{"f":876.4,"a":0.016},{"f":878.9,"a":0.023},{"f":881.4,"a":0.066},
      {"f":884.6,"a":0.12},{"f":887,"a":0.03},{"f":889.5,"a":0.061},{"f":892,"a":0.072},{"f":894.6,"a":0.02},{"f":897.7,"a":0.077},{"f":900.2,"a":0.161},{"f":902.6,"a":0.079},{"f":905.2,"a":0.026},{"f":907.7,"a":0.033},
      {"f":910.8,"a":0.046},{"f":913.9,"a":0.049},{"f":916.4,"a":0.033},{"f":918.9,"a":0.02},{"f":921.4,"a":0.026},{"f":923.9,"a":0.058},{"f":926.4,"a":0.02},{"f":928.9,"a":0.033},{"f":931.4,"a":0.02},{"f":933.9,"a":0.043},
      {"f":937,"a":0.061},{"f":939.5,"a":0.023},{"f":942,"a":0.03},{"f":944.5,"a":0.072},{"f":947,"a":0.113},{"f":949.5,"a":0.082},{"f":952,"a":0.026},{"f":955,"a":0.003},{"f":957.6,"a":0.049},{"f":960.7,"a":0.033},
      {"f":963.2,"a":0.036},{"f":965.7,"a":0.077},{"f":968.2,"a":0.054},{"f":970.7,"a":0.054},{"f":973.2,"a":0.02},{"f":975.7,"a":0.046},{"f":978.8,"a":0.007},{"f":981.3,"a":0.007},{"f":983.8,"a":0.02},{"f":986.3,"a":0.016},
      {"f":988.8,"a":0.02},{"f":991.3,"a":0.013},{"f":993.8,"a":0.007},{"f":996.3,"a":0.023},{"f":998,"a":0.066},{"f":999.5,"a":0.066},{"f":1000,"a":0}
    ]
  },
  "vconcat": [
    {
      "width": 2824,
      "height": 1026,
      "view": {"stroke": "black", "strokeWidth": 4},
      "title": {"text": "(a)", "orient": "bottom", "anchor": "middle", "dx": -97, "offset": 40, "font": "Liberation Serif", "fontSize": 88, "fontWeight": "bold", "color": "black"},
      "data": {"name": "sig"},
      "layer": [
        {
          "mark": {"type": "line", "color": "#0000ff", "strokeWidth": 4.5, "clip": true},
          "encoding": {
            "x": {
              "field": "t", "type": "quantitative",
              "scale": {"domain": [0, 0.1], "nice": false, "zero": false},
              "axis": {
                "orient": "bottom", "values": [0, 0.01, 0.02, 0.03, 0.04, 0.05, 0.06, 0.07, 0.08, 0.09, 0.1],
                "labelExpr": "'' + datum.value", "tickSize": -28, "tickWidth": 4, "labelPadding": 57,
                "labelFont": "Liberation Sans", "labelFontSize": 71, "labelColor": "#111",
                "title": "t", "titleFont": "Liberation Serif", "titleFontStyle": "italic", "titleFontWeight": "normal",
                "titleFontSize": 78, "titleColor": "#555", "titleX": 1406, "titleY": 176,
                "titleAlign": "right", "titleBaseline": "alphabetic", "titleAngle": 0
              }
            },
            "y": {
              "field": "v", "type": "quantitative",
              "scale": {"domain": [-0.1, 0.1], "nice": false, "zero": false},
              "axis": {
                "orient": "left", "values": [-0.1, -0.05, 0, 0.05, 0.1],
                "labelExpr": "'' + datum.value", "tickSize": -28, "tickWidth": 4, "labelPadding": 58, "labelOffset": -7,
                "labelFont": "Liberation Sans", "labelFontSize": 71, "labelColor": "#111",
                "title": "Amplitude/V", "titleFont": "Liberation Serif", "titleFontWeight": "normal",
                "titleFontSize": 78, "titleColor": "#555", "titleAngle": -90, "titleX": -187, "titleY": 496,
                "titleAlign": "center", "titleBaseline": "alphabetic"
              }
            }
          }
        },
        {
          "mark": {"type": "line", "opacity": 0},
          "encoding": {
            "x": {
              "field": "t", "type": "quantitative",
              "axis": {
                "orient": "top", "values": [0, 0.01, 0.02, 0.03, 0.04, 0.05, 0.06, 0.07, 0.08, 0.09, 0.1],
                "labels": false, "tickSize": -28, "tickWidth": 4,
                "title": "/s", "titleFont": "Liberation Serif", "titleFontWeight": "normal",
                "titleFontSize": 78, "titleColor": "#555", "titleX": 1410, "titleY": 1202,
                "titleAlign": "left", "titleBaseline": "alphabetic", "titleAngle": 0
              }
            },
            "y": {
              "field": "v", "type": "quantitative",
              "axis": {"orient": "right", "values": [-0.1, -0.05, 0, 0.05, 0.1], "labels": false, "tickSize": -28, "tickWidth": 4, "title": null}
            }
          }
        }
      ]
    },
    {
      "width": 2834,
      "height": 1120,
      "view": {"stroke": "black", "strokeWidth": 5.5},
      "title": {"text": "(b)", "orient": "bottom", "anchor": "middle", "dx": -102, "offset": 146, "font": "Liberation Serif", "fontSize": 88, "fontWeight": "bold", "color": "black"},
      "data": {"name": "spec"},
      "layer": [
        {
          "mark": {"type": "line", "color": "black", "strokeWidth": 6, "clip": true},
          "encoding": {
            "x": {
              "field": "f", "type": "quantitative",
              "scale": {"domain": [19.8, 1000], "nice": false, "zero": false},
              "axis": {
                "orient": "bottom", "values": [100, 200, 300, 400, 500, 600, 700, 800, 900, 1000],
                "labelExpr": "'' + datum.value", "tickSize": -28, "tickWidth": 5, "labelPadding": 71,
                "labelFont": "Liberation Sans", "labelFontSize": 77, "labelColor": "black",
                "title": "f", "titleFont": "Liberation Serif", "titleFontStyle": "italic", "titleFontWeight": "normal",
                "titleFontSize": 56, "titleColor": "black", "titleX": 1378, "titleY": 166,
                "titleAlign": "right", "titleBaseline": "alphabetic", "titleAngle": 0
              }
            },
            "y": {
              "field": "a", "type": "quantitative",
              "scale": {"domain": [0, 1.1], "nice": false, "zero": false},
              "axis": {
                "orient": "left", "values": [0, 0.2, 0.4, 0.6, 0.8, 1],
                "labelExpr": "'' + datum.value", "tickSize": -28, "tickWidth": 5, "labelPadding": 58, "labelOffset": 4,
                "labelFont": "Liberation Sans", "labelFontSize": 77, "labelColor": "black",
                "title": null
              }
            }
          }
        },
        {
          "mark": {"type": "line", "opacity": 0},
          "encoding": {
            "x": {
              "field": "f", "type": "quantitative",
              "axis": {
                "orient": "top", "values": [100, 200, 300, 400, 500, 600, 700, 800, 900, 1000],
                "labels": false, "tickSize": -28, "tickWidth": 5,
                "title": "/Hz", "titleFont": "Liberation Serif", "titleFontWeight": "normal",
                "titleFontSize": 56, "titleColor": "black", "titleX": 1384, "titleY": 1286,
                "titleAlign": "left", "titleBaseline": "alphabetic", "titleAngle": 0
              }
            },
            "y": {
              "field": "a", "type": "quantitative",
              "axis": {"orient": "right", "values": [0, 0.2, 0.4, 0.6, 0.8, 1], "labels": false, "tickSize": -28, "tickWidth": 5, "title": null}
            }
          }
        }
      ]
    }
  ]
}
